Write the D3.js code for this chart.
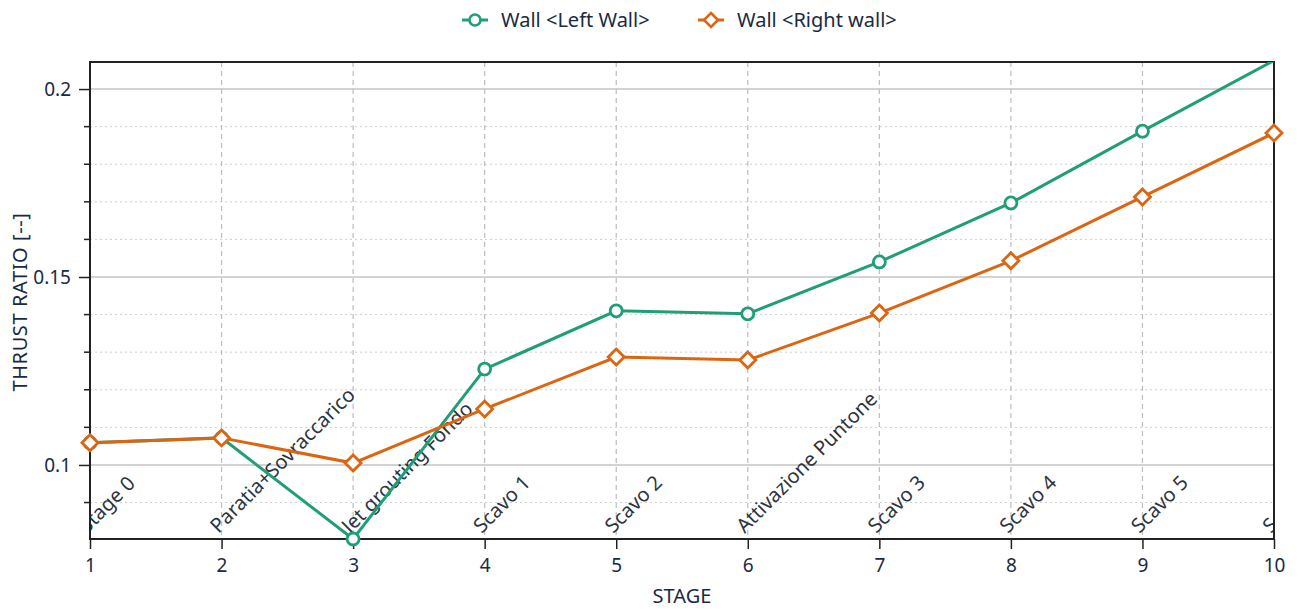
<!DOCTYPE html>
<html>
<head>
<meta charset="utf-8">
<script src="https://cdn.jsdelivr.net/npm/d3@7"></script>
<style>
  body { margin: 0; background: #fff; }
  text { font-family: "Noto Sans", sans-serif; fill: #222; }
</style>
</head>
<body>
<svg id="chart" width="1298" height="610"></svg>
<script>
// Stage numbers and their phase names
const stages = [1, 2, 3, 4, 5, 6, 7, 8, 9, 10];
const stageNames = ["Stage 0", "Paratia+Sovraccarico", "Jet grouting Fondo", "Scavo 1", "Scavo 2",
                    "Attivazione Puntone", "Scavo 3", "Scavo 4", "Scavo 5", "Scavo 6"];

// Thrust ratio per stage for each wall
const leftWall  = [0.1059, 0.1072, 0.0803, 0.1255, 0.1410, 0.1402, 0.1540, 0.1697, 0.1888, 0.2076];
const rightWall = [0.1059, 0.1072, 0.1005, 0.1149, 0.1287, 0.1279, 0.1404, 0.1543, 0.1713, 0.1883];

// Axis ticks
const yMajorTicks = [0.1, 0.15, 0.2];
const yMinorTicks = [0.09, 0.11, 0.12, 0.13, 0.14, 0.16, 0.17, 0.18, 0.19];
const yTickLabels = ["0.1", "0.15", "0.2"];
const yRange = [0.0803, 0.2072];

const seriesNames = ["Wall <Left Wall>", "Wall <Right wall>"];
const colors = ["#1f9e77", "#dd6511"];

const svg = d3.select("#chart");
const m = { left: 90, right: 1274, top: 62, bottom: 539 };

const x = d3.scaleLinear().domain([1, 10]).range([m.left, m.right]);
const y = d3.scaleLinear().domain(yRange).range([m.bottom, m.top]);

svg.append("defs").append("clipPath").attr("id", "plotClip")
  .append("rect").attr("x", m.left).attr("y", m.top)
  .attr("width", m.right - m.left).attr("height", m.bottom - m.top);

// grid
const grid = svg.append("g");
grid.selectAll(".minor").data(yMinorTicks).join("line")
  .attr("x1", m.left).attr("x2", m.right)
  .attr("y1", d => y(d)).attr("y2", d => y(d))
  .attr("stroke", "#cfcfcf").attr("stroke-width", 1).attr("stroke-dasharray", "2,3");
grid.selectAll(".major").data(yMajorTicks).join("line")
  .attr("x1", m.left).attr("x2", m.right)
  .attr("y1", d => y(d)).attr("y2", d => y(d))
  .attr("stroke", "#c4c4c4").attr("stroke-width", 1.5);
grid.selectAll(".vgrid").data(stages.slice(1, -1)).join("line")
  .attr("x1", d => x(d)).attr("x2", d => x(d))
  .attr("y1", m.top).attr("y2", m.bottom)
  .attr("stroke", "#bdbdbd").attr("stroke-width", 1.2).attr("stroke-dasharray", "5,4");

// stage names along the bottom of the plot, clipped to the plot area
const names = svg.append("g").attr("clip-path", "url(#plotClip)");
names.selectAll("text").data(stages).join("text")
  .attr("transform", d => `translate(${x(d) - 3},${m.bottom - 5}) rotate(-45)`)
  .attr("font-size", 20).style("fill", "#2e3440")
  .text((d, i) => stageNames[i]);

// axes
const yAxis = d3.axisLeft(y).tickValues(yMajorTicks).tickSize(11).tickPadding(8)
  .tickFormat((d, i) => yTickLabels[i]);
const gy = svg.append("g").attr("transform", `translate(${m.left},0)`).call(yAxis);
gy.selectAll("text").attr("font-size", 19).style("fill", "#1a2a44");
gy.selectAll(".minorTick").data(yMinorTicks).join("line").attr("class", "minorTick")
  .attr("x1", -6).attr("x2", 0).attr("y1", d => y(d)).attr("y2", d => y(d))
  .attr("stroke", "#222").attr("stroke-width", 1.5);

const xAxis = d3.axisBottom(x).tickValues(stages).tickSize(10).tickPadding(10)
  .tickFormat(d3.format("d"));
const gx = svg.append("g").attr("transform", `translate(0,${m.bottom})`).call(xAxis);
gx.selectAll("text").attr("font-size", 19).style("fill", "#1a2a44");

[gx, gy].forEach(g => {
  g.select(".domain").remove();
  g.selectAll(".tick line").attr("stroke", "#222").attr("stroke-width", 1.5);
});

// frame
svg.append("rect").attr("x", m.left).attr("y", m.top)
  .attr("width", m.right - m.left).attr("height", m.bottom - m.top)
  .attr("fill", "none").attr("stroke", "#222").attr("stroke-width", 2);

// series
const series = [leftWall, rightWall];
const line = d3.line().x((d, i) => x(stages[i])).y(d => y(d));

series.forEach((vals, s) => {
  svg.append("path").attr("clip-path", "url(#plotClip)")
    .attr("d", line(vals)).attr("fill", "none")
    .attr("stroke", colors[s]).attr("stroke-width", 3);
  // markers are drawn only for values inside the visible range
  const pts = vals.map((v, i) => ({ v, st: stages[i] })).filter(p => p.v <= yRange[1]);
  const g = svg.append("g");
  if (s === 0) {
    g.selectAll("circle").data(pts).join("circle")
      .attr("cx", p => x(p.st)).attr("cy", p => y(p.v)).attr("r", 6)
      .attr("fill", "#fff").attr("stroke", colors[s]).attr("stroke-width", 2.8);
  } else {
    g.selectAll("path").data(pts).join("path")
      .attr("d", "M0,-8L8,0L0,8L-8,0Z")
      .attr("transform", p => `translate(${x(p.st)},${y(p.v)})`)
      .attr("fill", "#fff").attr("stroke", colors[s]).attr("stroke-width", 2.8);
  }
});

// axis titles
svg.append("text").attr("transform", "translate(27,302) rotate(-90)")
  .attr("text-anchor", "middle").attr("font-size", 20).attr("letter-spacing", 0.6)
  .style("fill", "#1a2a44")
  .text("THRUST RATIO [--]");
svg.append("text").attr("x", 682).attr("y", 603)
  .attr("text-anchor", "middle").attr("font-size", 20).style("fill", "#1a2a44")
  .text("STAGE");

// legend
const legendX = [462, 698];
const leg = svg.append("g");
seriesNames.forEach((name, s) => {
  const g = leg.append("g").attr("transform", `translate(${legendX[s]},20)`);
  g.append("line").attr("x1", 0).attr("x2", 26).attr("stroke", colors[s]).attr("stroke-width", 3);
  if (s === 0) {
    g.append("circle").attr("cx", 13).attr("r", 5.5).attr("fill", "#fff")
      .attr("stroke", colors[s]).attr("stroke-width", 2.6);
  } else {
    g.append("path").attr("d", "M13,-7L20,0L13,7L6,0Z").attr("fill", "#fff")
      .attr("stroke", colors[s]).attr("stroke-width", 2.6);
  }
  g.append("text").attr("x", 39).attr("y", 7).attr("font-size", 20).style("fill", "#1a2a44")
    .text(name);
});
</script>
</body>
</html>
